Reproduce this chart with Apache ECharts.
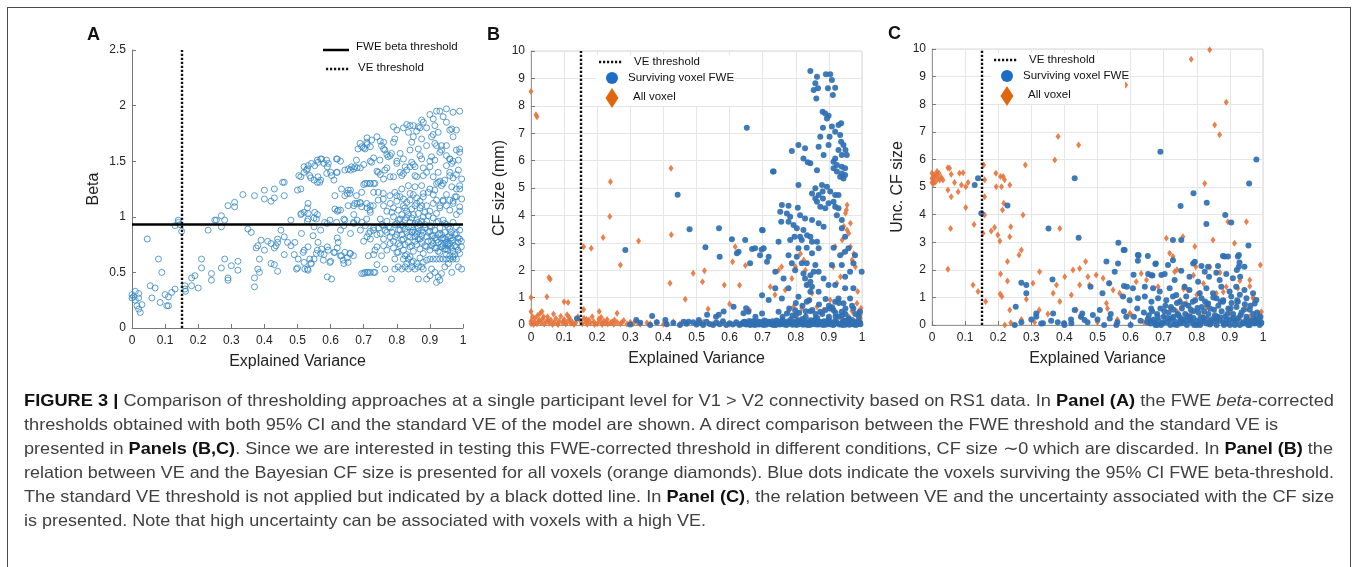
<!DOCTYPE html>
<html>
<head>
<meta charset="utf-8">
<title>Figure 3</title>
<script src="https://cdn.jsdelivr.net/npm/echarts@6/dist/echarts.min.js"></script>
<style>
html, body { margin: 0; padding: 0; background: #fff; }
#wrap { position: relative; width: 1358px; height: 567px; overflow: hidden; }
#chart { position: absolute; left: 0; top: 0; width: 1358px; height: 567px; }
#frame { position: absolute; left: 7px; top: 7px; width: 1342px; height: 620px; border: 1.5px solid #4a4a4a; pointer-events: none; }
#caption { position: absolute; left: 24px; top: 388px; font-family: 'Liberation Sans', Arial, sans-serif; color: #404040; font-size: 16.5px; line-height: 24px; }
#caption .ln { white-space: nowrap; height: 24px; }
#caption .ln span { display: inline-block; transform-origin: 0 50%; }
#caption b { color: #111; }
</style>
</head>
<body>
<div id="wrap">
  <div id="chart"></div>
  <div id="frame"></div>
  <div id="caption">
    <div class="ln"><span data-w="1310"><b>FIGURE 3 |</b> Comparison of thresholding approaches at a single participant level for V1 &gt; V2 connectivity based on RS1 data. In <b>Panel (A)</b> the FWE <i>beta</i>-corrected</span></div>
    <div class="ln"><span data-w="1254">thresholds obtained with both 95% CI and the standard VE of the model are shown. A direct comparison between the FWE threshold and the standard VE is</span></div>
    <div class="ln"><span data-w="1309">presented in <b>Panels (B,C)</b>. Since we are interested in testing this FWE-corrected threshold in different conditions, CF size ∼0 which are discarded. In <b>Panel (B)</b> the</span></div>
    <div class="ln"><span data-w="1310">relation between VE and the Bayesian CF size is presented for all voxels (orange diamonds). Blue dots indicate the voxels surviving the 95% CI FWE beta-threshold.</span></div>
    <div class="ln"><span data-w="1310">The standard VE threshold is not applied but indicated by a black dotted line. In <b>Panel (C)</b>, the relation between VE and the uncertainty associated with the CF size</span></div>
    <div class="ln"><span data-w="682">is presented. Note that high uncertainty can be associated with voxels with a high VE.</span></div>
  </div>
</div>
<script>
// thresholds
const VE_THRESHOLD = 0.15;
const FWE_BETA = 0.925;

// panel A: explained variance vs beta
const betaPoints = [
  [0,0.30],[0,0.27],[0.01,0.33],[0.01,0.25],[0.02,0.31],[0.015,0.20],[0.02,0.17],[0.025,0.14],[0.03,0.21],[0.02,0.27],[0.005,0.28],
  [0.046,0.80],[0.055,0.38],[0.07,0.36],[0.06,0.27],[0.08,0.62],[0.09,0.50],[0.085,0.23],
  [0.10,0.30],[0.105,0.20],[0.11,0.20],[0.11,0.28],[0.12,0.32],[0.13,0.35],
  [0.13,0.92],[0.14,0.95],[0.14,0.97],[0.15,0.87],[0.145,0.93],
  [0.16,0.35],[0.162,0.33],[0.16,0.38],[0.18,0.45],[0.19,0.47],[0.18,0.38],[0.20,0.36],[0.21,0.62],[0.21,0.54],
  [0.23,0.88],[0.24,0.49],[0.24,0.43],[0.25,0.97],[0.255,0.97],[0.27,1.01],[0.28,0.97],[0.27,0.91],[0.29,1.10],
  [0.27,0.54],[0.28,0.62],[0.29,0.45],[0.29,0.43],[0.30,0.56],[0.32,0.60],[0.32,0.52],
  [0.31,1.13],[0.31,1.09],[0.335,1.20],[0.35,0.89],[0.36,0.86],[0.37,1.19],
  [0.37,0.45],[0.37,0.37],[0.38,0.53],[0.385,0.50],[0.385,0.62],[0.38,0.74],[0.375,0.72],
  [0.40,1.24],[0.40,1.16],[0.42,1.14],[0.43,1.25],[0.43,1.17],[0.46,1.31],[0.455,1.31],[0.46,1.19],
  [0.39,0.79],[0.40,0.70],[0.41,0.78],[0.42,0.76],[0.43,0.72],[0.435,0.74],[0.44,0.77],[0.44,0.80],[0.45,0.88],[0.46,0.82],[0.47,0.77],
  [0.42,0.58],[0.43,0.57],[0.44,0.51],[0.46,0.66],[0.48,0.97],[0.48,0.74],[0.49,0.66],
  [0.50,0.54],[0.50,1.24],[0.51,1.36],[0.52,1.40],[0.52,1.45],[0.53,1.43],[0.54,1.35],[0.55,1.33],[0.56,1.51],[0.57,1.52],[0.58,1.48],[0.59,1.45],[0.56,1.31],[0.57,1.33],
  [0.51,1.02],[0.52,1.04],[0.53,1.08],[0.53,0.96],[0.55,0.91],[0.55,0.99],[0.56,1.02],[0.57,0.88],[0.59,0.94],
  [0.52,0.70],[0.52,0.59],[0.53,0.53],[0.54,0.58],[0.55,0.62],[0.56,0.70],[0.57,0.67],[0.58,0.66],[0.59,0.73],[0.59,0.46],
  [0.60,1.40],[0.61,1.33],[0.62,1.40],[0.62,1.52],[0.63,1.50],[0.63,1.06],[0.62,1.05],[0.64,0.98],[0.63,0.88],[0.64,0.92],
  [0.62,0.81],[0.61,0.68],[0.60,0.60],[0.62,0.72],[0.63,0.65],[0.64,0.58],[0.65,0.63],[0.66,0.67],
  [0.65,1.21],[0.66,1.24],[0.66,1.42],[0.67,1.43],[0.68,1.44],[0.69,1.44],[0.67,1.10],[0.68,1.12],[0.69,1.12],[0.67,1.02],[0.68,0.97],[0.69,0.88],[0.66,0.85],[0.67,0.94],
  [0.70,1.62],[0.71,1.65],[0.72,1.63],[0.71,1.71],[0.70,1.47],[0.72,1.50],[0.73,1.53],[0.70,1.29],[0.71,1.30],[0.72,1.30],[0.73,1.30],[0.73,1.22],
  [0.71,1.08],[0.72,1.04],[0.72,1.10],[0.70,0.78],[0.71,0.82],[0.72,0.87],[0.73,0.90],[0.70,0.49],[0.71,0.50],[0.72,0.50],[0.73,0.50],[0.73,0.66],[0.74,0.73],[0.74,0.57],
  [0.74,1.72],[0.75,1.68],[0.76,1.61],[0.77,1.56],[0.78,1.55],[0.74,1.41],[0.75,1.38],[0.76,1.34],[0.77,1.44],[0.78,1.36],
  [0.79,1.81],[0.80,1.78],[0.82,1.80],[0.83,1.83],[0.84,1.82],[0.85,1.72],[0.86,1.77],[0.87,1.80],[0.88,1.85],[0.89,1.80],
  [0.80,1.50],[0.81,1.40],[0.82,1.39],[0.83,1.42],[0.84,1.45],[0.85,1.47],[0.86,1.36],[0.87,1.55],[0.88,1.44],[0.89,1.40],
  [0.90,1.92],[0.91,1.88],[0.92,1.95],[0.93,1.95],[0.94,1.90],[0.95,1.85],[0.96,1.78],[0.97,1.72],[0.99,1.95],[0.98,1.60],
  [0.91,1.74],[0.92,1.64],[0.93,1.58],[0.95,1.64],[0.96,1.52],[0.97,1.50],[0.99,1.58],[0.98,1.38],
  [0.90,1.50],[0.91,1.36],[0.92,1.30],[0.93,1.32],[0.94,1.30],[0.95,1.46],[0.96,1.40],[0.97,1.35],[0.98,1.25],[0.99,1.28],
  [0.90,1.25],[0.91,1.20],[0.92,1.15],[0.93,1.10],[0.94,1.14],[0.95,1.20],[0.96,1.15],[0.97,1.12],[0.98,1.18],[0.99,1.05],
  [0.95,1.97],[0.97,1.94],[0.875,1.87],[0.85,1.82],[0.835,1.76],[0.865,1.81],[0.915,1.82],[0.925,1.76],[0.966,1.79],[0.98,1.78],
  [0.905,1.72],[0.875,1.70],[0.845,1.67],[0.794,1.70],[0.79,1.67],[0.76,1.67],[0.724,1.69],[0.709,1.67],[0.689,1.66],[0.683,1.61],[0.694,1.63],[0.704,1.61],
  [0.754,1.64],[0.764,1.60],[0.784,1.57],[0.774,1.54],[0.81,1.57],[0.84,1.60],[0.865,1.61],[0.89,1.64],[0.915,1.66],[0.935,1.64],[0.99,1.61],
  [0.95,1.55],[0.935,1.60],[0.905,1.54],[0.915,1.51],[0.96,1.52],[0.986,1.51],[0.966,1.48],[0.875,1.52],[0.845,1.49],[0.82,1.52],[0.80,1.48],
  [0.749,1.51],[0.724,1.49],[0.678,1.51],[0.663,1.45],[0.653,1.43],[0.673,1.45],[0.643,1.42],[0.618,1.52],[0.593,1.48],[0.588,1.51],[0.573,1.52],
  [0.562,1.49],[0.552,1.46],[0.542,1.48],[0.532,1.46],[0.527,1.42],[0.537,1.37],[0.562,1.36],[0.567,1.31],[0.588,1.39],[0.603,1.37],[0.618,1.40],
  [0.504,1.37],[0.51,1.25],[0.744,1.40],[0.764,1.42],[0.79,1.36],[0.815,1.37],[0.825,1.45],[0.855,1.45],[0.855,1.37],[0.88,1.37],[0.90,1.45],
  [0.925,1.40],[0.925,1.31],[0.945,1.33],[0.96,1.37],[0.986,1.42],[0.996,1.34],[0.935,1.28],[0.966,1.27],[0.99,1.25],[0.996,1.16],[0.976,1.18],
  [0.915,1.24],[0.895,1.22],[0.875,1.28],[0.855,1.27],[0.835,1.28],[0.815,1.25],[0.794,1.22],[0.779,1.19],[0.759,1.21],[0.744,1.22],
  [0.734,1.30],[0.719,1.30],[0.704,1.30],[0.694,1.22],[0.678,1.19],[0.658,1.21],[0.643,1.19],[0.633,1.25],[0.653,1.24],[0.613,1.19],
  [0.613,1.07],[0.623,1.06],[0.653,1.10],[0.673,1.12],[0.689,1.13],[0.694,1.09],[0.709,1.12],[0.719,1.06],[0.729,1.10],[0.744,1.15],[0.759,1.16],
  [0.532,1.12],[0.532,1.03],[0.512,1.03],[0.552,1.04],[0.557,0.98],[0.532,0.98],[0.582,0.95],[0.598,0.97],[0.618,0.95],[0.643,0.97],[0.669,0.95],[0.694,0.95],[0.709,0.98],
  [0.492,0.77],[0.512,0.85],[0.517,0.68],[0.532,0.73],[0.547,0.83],[0.562,0.77],[0.557,0.67],[0.573,0.71],[0.578,0.61],[0.593,0.70],[0.598,0.59],
  [0.613,0.68],[0.623,0.77],[0.633,0.65],[0.643,0.68],[0.653,0.59],[0.658,0.67],[0.669,0.65],[0.638,0.61],[0.522,0.53],[0.502,0.62],[0.497,0.53],
  [0.537,0.62],[0.542,0.58],[0.532,0.52],[0.603,0.44],[0.694,0.49],[0.704,0.50],[0.714,0.50],[0.734,0.50],[0.714,0.65],[0.734,0.70],[0.754,0.65],
  [0.764,0.53],[0.784,0.44],[0.794,0.53],[0.804,0.55],[0.815,0.53],[0.825,0.55],[0.835,0.53],[0.845,0.55],[0.855,0.53],[0.865,0.55],[0.875,0.55],[0.88,0.53],
  [0.835,0.62],[0.845,0.59],[0.825,0.65],[0.794,0.62],[0.804,0.68],[0.865,0.44],[0.89,0.61],[0.90,0.62],[0.91,0.62],[0.92,0.62],[0.93,0.62],
  [0.94,0.62],[0.95,0.62],[0.96,0.62],[0.97,0.62],[0.98,0.62],[0.905,0.53],[0.915,0.50],[0.925,0.46],[0.935,0.49],[0.92,0.41],[0.945,0.55],
  [0.966,0.50],[0.986,0.55],[0.996,0.53],[0.956,0.58],[0.89,0.44],[0.90,0.47],[0.93,0.43],
  [0.76,1.10],[0.77,1.05],[0.78,1.12],[0.79,1.08],[0.80,1.14],[0.81,1.18],[0.82,1.10],[0.83,1.05],[0.84,1.15],[0.85,1.20],[0.86,1.12],[0.87,1.08],
  [0.88,1.18],[0.89,1.10],[0.90,1.05],[0.91,1.12],[0.92,1.03],[0.93,1.08],[0.94,1.15],[0.95,1.10],[0.96,1.06],[0.97,1.14],[0.98,1.02],[0.99,1.09],
  [0.75,0.98],[0.76,0.92],[0.77,0.96],[0.78,0.90],[0.79,1.00],[0.80,0.94],[0.81,0.98],[0.82,0.92],[0.83,0.99],[0.84,0.95],[0.85,1.02],[0.86,0.97],
  [0.87,0.93],[0.88,1.00],[0.89,0.96],[0.90,0.92],[0.91,0.99],[0.92,0.95],[0.93,0.90],[0.94,0.97],[0.95,0.93],[0.96,0.89],[0.97,0.95],[0.98,0.91],[0.99,0.88],
  [0.75,0.85],[0.76,0.80],[0.77,0.86],[0.78,0.82],[0.79,0.78],[0.80,0.84],[0.81,0.88],[0.82,0.80],[0.83,0.86],[0.84,0.82],[0.85,0.88],[0.86,0.84],
  [0.87,0.80],[0.88,0.86],[0.89,0.82],[0.90,0.87],[0.91,0.83],[0.92,0.79],[0.93,0.85],[0.94,0.81],[0.95,0.77],[0.96,0.83],[0.97,0.79],[0.98,0.85],[0.99,0.80],
  [0.76,0.74],[0.77,0.70],[0.78,0.76],[0.79,0.72],[0.80,0.68],[0.81,0.74],[0.82,0.70],[0.83,0.66],[0.84,0.73],[0.85,0.69],[0.86,0.75],[0.87,0.71],
  [0.88,0.67],[0.89,0.73],[0.90,0.70],[0.91,0.76],[0.92,0.72],[0.93,0.68],[0.94,0.74],[0.95,0.71],[0.96,0.76],[0.97,0.69],[0.98,0.73],[0.99,0.67],
  [0.835,1.02],[0.845,1.07],[0.855,0.94],[0.865,1.03],[0.875,0.96],[0.845,0.91],[0.855,0.86],[0.865,0.90],[0.875,1.10],[0.885,1.04],[0.825,1.08],
  [0.815,1.02],[0.805,0.97],[0.795,0.93],[0.785,1.04],[0.83,1.13],[0.86,1.17],[0.87,1.14],[0.88,1.21],[0.84,1.21],[0.82,1.16],[0.80,1.19],
  [0.935,0.80],[0.945,0.86],[0.955,0.82],[0.965,0.78],[0.945,0.76],[0.935,0.73],[0.955,0.70],[0.925,0.84],[0.915,0.88],[0.905,0.91],[0.965,0.86],
  [0.975,0.74],[0.985,0.77],[0.955,0.91],[0.945,0.94],[0.925,0.96],[0.905,0.83],[0.895,0.78],[0.885,0.74],[0.875,0.77],[0.865,0.80],[0.855,0.78],
  [0.845,0.74],[0.835,0.77],[0.825,0.75],[0.815,0.79],[0.805,0.76],[0.795,0.82],[0.785,0.86],[0.775,0.91],[0.765,0.88],[0.755,0.93],[0.745,0.90],
  [0.74,0.84],[0.73,0.88],[0.72,0.80],[0.715,0.85],[0.705,0.92],
  [0.805,1.06],[0.815,0.93],[0.825,0.97],[0.835,0.91],[0.845,0.99],[0.855,1.10],[0.865,0.95],[0.875,0.88],[0.885,0.93],[0.895,1.01],
  [0.805,0.88],[0.815,0.84],[0.825,0.89],[0.835,0.83],[0.845,0.86],[0.855,0.82],[0.865,0.87],[0.875,0.83],[0.885,0.90],[0.895,0.86],
  [0.905,0.78],[0.915,0.81],[0.925,0.77],[0.935,0.84],[0.945,0.80],[0.955,0.76],[0.965,0.81],[0.975,0.84],[0.985,0.81],[0.995,0.78],
  [0.915,0.72],[0.925,0.69],[0.935,0.76],[0.945,0.71],[0.955,0.74],[0.965,0.72],[0.975,0.66],[0.985,0.70],[0.995,0.73],[0.905,0.74],
  [0.82,0.62],[0.83,0.58],[0.84,0.64],[0.85,0.60],[0.86,0.58],[0.87,0.63],[0.88,0.59],[0.95,0.66],[0.96,0.65],[0.97,0.64]
];

// panel B: explained variance vs CF size, all voxels
const cfSizeAll = [
  [0,8.52],[0.015,7.67],[0.018,7.6],[0,1.0],[0.048,1.03],[0.054,1.73],[0.058,1.67],[0.10,0.85],[0.112,0.82],[0,0.49],[0.028,0.43],[0.033,0.49],[0.109,0.37],
  [0.159,2.86],[0.182,2.8],[0.159,0.57],[0.218,3.19],[0.238,3.96],[0.24,5.23],[0.206,0.49],[0.26,0.43],[0.27,2.19],[0.325,3.07],
  [0.423,5.72],[0.424,3.29],[0.42,1.52],[0.466,0.94],[0.49,1.89],[0.518,1.58],[0.524,1.98],[0.535,0.58],[0.584,1.46],[0.60,0.77],
  [0.609,2.31],[0.617,2.86],[0.63,1.45],[0.648,2.17],[0.66,0.55],
  [0.723,1.4],[0.737,1.1],[0.748,2.0],[0.757,2.13],[0.768,1.28],[0.788,1.7],[0.799,2.13],[0.814,2.6],[0.824,2.37],[0.834,1.46],[0.843,0.91],
  [0.829,2.0],[0.849,1.16],[0.864,0.67],[0.884,0.55],[0.904,0.91],[0.919,2.86],[0.924,1.52],[0.935,1.76],[0.94,3.1],[0.945,3.6],[0.95,4.08],
  [0.955,4.38],[0.953,4.2],[0.96,3.35],[0.965,2.86],[0.97,2.37],[0.975,2.6],[0.98,2.13],[0.985,0.79],[0.987,1.22],[0.99,0.49],[0.995,0.37],
  [0.997,0.61],[0.955,3.47],[0.965,3.71],[0.942,2.62],[0.93,0.91],[0.913,2.13],[0.793,0.67],[0.778,0.49],[0.818,0.61],
  [0,0.05],[0,0.15],[0.005,0.3],[0.01,0.1],[0.012,0.25],[0.018,0.05],[0.02,0.35],[0.025,0.18],[0.03,0.08],[0.035,0.22],[0.04,0.04],[0.045,0.12],
  [0.05,0.3],[0.055,0.06],[0.06,0.18],[0.065,0.02],[0.07,0.1],[0.075,0.24],[0.08,0.05],[0.085,0.15],[0.09,0.32],[0.095,0.08],[0.10,0.2],
  [0.105,0.04],[0.11,0.12],[0.115,0.28],[0.12,0.06],[0.125,0.1],[0.13,0.02],[0.15,0.15],[0.155,0.05],[0.16,0.25],[0.165,0.1],[0.17,0.03],
  [0.175,0.18],[0.18,0.08],[0.185,0.3],[0.19,0.12],[0.2,0.05],[0.205,0.22],[0.21,0.1],[0.215,0.02],[0.22,0.15],[0.225,0.06],[0.23,0.2],
  [0.24,0.08],[0.245,0.12],[0.25,0.03],[0.26,0.1],[0.27,0.05],[0.28,0.16],[0.29,0.04],[0.3,0.1],[0.31,0.06],[0.32,0.12],[0.33,0.03],
  [0.35,0.08],[0.36,0.05],[0.38,0.1],[0.40,0.03],[0.41,0.06],[0.43,0.12],[0.45,0.04],[0.47,0.07],[0.5,0.03],[0.52,0.1],[0.55,0.05],
  [0.58,0.08],[0.6,0.03],[0.62,0.06],[0.65,0.1],[0.68,0.04],[0.7,0.08],[0.72,0.12],[0.74,0.05],[0.76,0.15],[0.78,0.08],[0.8,0.2],
  [0.82,0.06],[0.84,0.12],[0.86,0.25],[0.88,0.1],[0.9,0.15],[0.92,0.05],[0.94,0.2],[0.96,0.3],[0.97,0.5],[0.98,0.12],[0.99,0.4],[0.995,0.25],
  [0.008,0.02],[0.022,0.12],[0.038,0.3],[0.052,0.18],[0.068,0.4],[0.082,0.02],[0.098,0.14],[0.118,0.2],[0.135,0.08],[0.142,0.3],
  [0.168,0.2],[0.192,0.02],[0.212,0.28],[0.232,0.04],[0.252,0.18],[0.275,0.1]
];

// panel B: explained variance vs CF size, voxels surviving FWE
const cfSizeFWE = [
  [0.844,9.27],[0.864,9.06],[0.891,9.15],[0.904,9.15],[0.909,8.94],[0.859,8.82],[0.867,8.64],[0.897,8.64],[0.919,8.66],[0.854,8.58],[0.862,8.27],
  [0.912,8.39],[0.881,7.78],[0.889,7.72],[0.899,7.64],[0.894,7.54],[0.929,7.3],[0.937,7.36],[0.909,7.24],[0.652,7.2],[0.882,7.2],[0.919,7.05],
  [0.874,6.87],[0.902,6.87],[0.934,6.93],[0.937,6.69],[0.944,6.57],[0.95,6.39],[0.929,6.39],[0.808,6.57],[0.828,6.45],[0.869,6.51],[0.899,6.57],
  [0.788,6.35],[0.884,6.2],[0.919,6.08],[0.939,6.2],[0.954,6.2],[0.823,6.08],[0.836,5.94],[0.844,5.9],[0.914,5.96],[0.924,5.84],[0.939,5.78],
  [0.949,5.72],[0.733,5.6],[0.864,5.65],[0.914,5.72],[0.924,5.6],[0.939,5.53],[0.934,5.41],[0.944,5.35],[0.949,5.47],[0.808,5.11],[0.859,4.99],
  [0.879,5.11],[0.894,5.05],[0.849,4.8],[0.869,4.74],[0.881,4.87],[0.904,4.87],[0.919,4.74],[0.859,4.62],[0.882,4.62],[0.864,4.5],[0.899,4.44],
  [0.914,4.5],[0.919,4.32],[0.929,4.26],[0.874,4.32],[0.889,4.26],[0.929,4.74],[0.758,4.38],[0.778,4.35],[0.806,4.28],[0.753,4.13],[0.773,4.07],
  [0.783,3.95],[0.813,4.01],[0.828,3.89],[0.849,3.83],[0.924,4.01],[0.939,3.83],[0.756,3.77],[0.778,3.77],[0.793,3.65],[0.803,3.53],[0.823,3.47],
  [0.869,3.71],[0.834,3.28],[0.844,3.22],[0.813,3.22],[0.796,3.22],[0.884,3.59],[0.939,3.53],[0.949,3.22],[0.698,3.47],[0.647,3.1],[0.748,3.04],
  [0.783,3.1],[0.818,3.1],[0.849,3.04],[0.864,3.04],[0.677,2.8],[0.703,2.8],[0.808,2.8],[0.833,2.82],[0.869,2.8],[0.914,2.82],[0.959,2.8],
  [0.627,2.67],[0.692,2.55],[0.718,2.49],[0.778,2.55],[0.803,2.49],[0.849,2.62],[0.934,2.55],[0.949,2.67],[0.979,2.55],[0.662,2.25],[0.713,2.31],
  [0.788,2.25],[0.818,2.25],[0.833,2.25],[0.859,2.19],[0.909,2.19],[0.939,2.19],[0.974,2.25],[0.738,1.94],[0.798,2.0],[0.823,1.88],[0.844,1.82],
  [0.854,1.94],[0.869,1.94],[0.964,1.94],[0.999,1.94],[0.763,1.7],[0.828,1.7],[0.844,1.58],[0.884,1.7],[0.949,1.76],[0.833,1.46],[0.849,1.4],
  [0.899,1.46],[0.919,1.46],[0.738,1.34],[0.778,1.34],[0.844,1.21],[0.869,1.21],[0.949,1.34],[0.974,1.34],[0.698,1.09],[0.718,0.91],[0.758,0.97],
  [0.808,1.03],[0.833,0.85],[0.919,0.85],[0.929,0.97],[0.944,0.79],[0.964,0.97],[0.657,0.48],[0.698,0.42],[0.748,0.48],[0.773,0.42],[0.798,0.54],
  [0.844,0.5],[0.874,0.48],[0.904,0.6],[0.914,0.54],[0.939,0.48],[0.974,0.6],[0.994,0.48],
  [0.139,0.24],[0.285,2.74],[0.443,4.75],[0.479,3.49],[0.527,2.84],[0.568,3.53],[0.570,2.49],[0.607,3.13],[0.622,2.62],[0.668,2.77],[0.697,2.76],
  [0.70,3.46],[0.731,5.6],[0.366,0.33],[0.318,0.18],[0.406,0.18],[0.461,0.12],[0.476,0.12],[0.507,0.18],[0.532,0.37],[0.559,0.30],[0.567,0.37],
  [0.582,0.49],[0.612,0.67],[0.642,0.43],[0.65,0.61],[0.678,0.30],
  [0.76,0.3],[0.78,0.6],[0.79,0.35],[0.8,0.8],[0.81,0.45],[0.82,0.7],[0.83,0.3],[0.84,0.9],[0.85,0.55],[0.86,0.25],[0.87,0.75],[0.88,0.4],
  [0.89,0.95],[0.9,0.3],[0.91,0.65],[0.92,0.45],[0.93,0.8],[0.94,0.35],[0.95,0.6],[0.96,0.25],[0.97,0.7],[0.98,0.4],[0.99,0.3],[0.8,0.35],
  [0.83,0.5],[0.86,0.4],[0.89,0.55],[0.92,0.3],[0.95,0.4],[0.9,0.7],
  [0.3,0.02],[0.33,0.08],[0.36,0.0],[0.38,0.1],[0.41,0.03],[0.43,0.07],[0.45,0.0],[0.47,0.05],[0.49,0.1],[0.5,0.02],[0.51,0.08],[0.52,0.0],
  [0.53,0.12],[0.54,0.04],[0.55,0.0],[0.56,0.09],[0.57,0.03],[0.58,0.14],[0.59,0.0],[0.6,0.06],[0.61,0.02],[0.62,0.1],[0.63,0.0],[0.635,0.05],
  [0.64,0.05],[0.645,0.12],[0.65,0.02],[0.655,0.08],[0.66,0.15],[0.665,0.03],[0.67,0.1],[0.675,0.0],[0.68,0.06],[0.685,0.13],[0.69,0.02],
  [0.695,0.09],[0.7,0.04],[0.705,0.16],[0.71,0.01],[0.715,0.07],[0.72,0.11],[0.725,0.03],[0.73,0.14],[0.735,0.05],[0.74,0.0],[0.745,0.09],
  [0.75,0.12],[0.755,0.04],[0.76,0.18],[0.765,0.02],[0.77,0.08],[0.775,0.13],[0.78,0.05],[0.785,0.2],[0.79,0.01],[0.795,0.1],[0.8,0.06],
  [0.805,0.15],[0.81,0.03],[0.815,0.09],[0.82,0.22],[0.825,0.04],[0.83,0.12],[0.835,0.0],[0.84,0.07],[0.845,0.17],[0.85,0.03],[0.855,0.1],
  [0.86,0.05],[0.865,0.25],[0.87,0.02],[0.875,0.11],[0.88,0.06],[0.885,0.14],[0.89,0.01],[0.895,0.08],[0.9,0.19],[0.905,0.04],[0.91,0.1],
  [0.915,0.02],[0.92,0.13],[0.925,0.06],[0.93,0.3],[0.935,0.03],[0.94,0.09],[0.945,0.15],[0.95,0.01],[0.955,0.07],[0.96,0.12],[0.965,0.04],
  [0.97,0.18],[0.975,0.02],[0.98,0.1],[0.985,0.05],[0.99,0.14],[0.995,0.03],
  [0.642,0.1],[0.652,0.04],[0.662,0.0],[0.672,0.14],[0.682,0.02],[0.692,0.11],[0.702,0.0],[0.712,0.13],[0.722,0.05],[0.732,0.0],[0.742,0.16],
  [0.752,0.02],[0.762,0.1],[0.772,0.0],[0.782,0.12],[0.792,0.04],[0.802,0.0],[0.812,0.17],[0.822,0.01],[0.832,0.08],[0.842,0.0],[0.852,0.15],
  [0.862,0.02],[0.872,0.09],[0.882,0.0],[0.892,0.13],[0.902,0.03],[0.912,0.0],[0.922,0.1],[0.932,0.02],[0.942,0.0],[0.952,0.16],[0.962,0.01],
  [0.972,0.08],[0.982,0.0],[0.992,0.11]
];

// panel C: explained variance vs uncertainty of CF size, all voxels
const uncAll = [
  [0,5.5],[0.003,5.25],[0.008,5.38],[0.013,5.44],[0.018,5.32],[0.023,5.25],[0.028,5.35],[0.005,5.13],[0.011,5.19],[0.015,5.56],[0.021,5.5],
  [0.033,5.25],[0,5.32],[0.006,5.44],[0,5.16],
  [0.048,5.7],[0.053,5.68],[0.058,5.46],[0.068,5.16],[0.048,4.89],[0.058,4.65],[0.079,4.83],[0.089,5.07],[0.094,5.52],[0.102,5.01],[0.102,4.26],
  [0.109,5.16],[0.083,5.5],[0.056,3.5],[0.048,2.02],[0.124,1.45],[0.127,3.64],[0.139,1.21],[0.156,5.8],[0.159,5.26],[0.159,4.65],[0.159,3.99],
  [0.154,3.32],[0.162,0.85],[0.189,3.53],[0.179,3.41],[0.193,5.5],[0.194,5.01],[0.199,3.26],[0.205,3.04],[0.207,5.38],[0.21,5.01],[0.213,4.17],
  [0.217,4.41],[0.215,5.38],[0.207,1.85],[0.206,1.12],[0.211,1.03],[0.219,5.26],[0.235,5.07],[0.228,2.3],[0.238,3.56],[0.235,3.2],[0.228,1.59],
  [0.235,0.54],[0.238,0.08],[0.263,2.54],[0.27,2.72],[0.275,3.99],[0.282,5.8],[0.285,0.93],[0.305,1.51],[0.325,1.93],[0.324,0.54],[0.371,5.98],
  [0.381,6.83],[0.386,3.5],[0.386,0.85],[0.376,1.45],[0.366,1.15],[0.401,1.75],[0.421,1.09],[0.426,1.99],[0.443,6.52],[0.446,2.05],[0.446,1.45],
  [0.436,0.54],[0.464,2.3],[0.471,1.75],[0.476,1.45],[0.496,1.81],[0.517,1.69],[0.527,0.79],[0.537,1.51],[0.547,1.27],[0.567,1.15],[0.585,8.7],
  [0.597,0.42],[0.617,1.57],[0.632,1.87],[0.648,1.63],[0.683,1.39],[0.708,3.14],[0.718,2.6],[0.728,2.48],[0.733,1.93],[0.758,3.2],[0.773,1.27],
  [0.783,9.63],[0.794,2.84],[0.797,2.11],[0.824,5.13],[0.839,9.97],[0.849,3.08],[0.854,7.25],[0.869,6.89],[0.889,8.07],[0.894,3.74],[0.914,2.96],
  [0.924,1.33],[0.95,3.74],[0.96,1.63],[0.97,0.97],[0.992,2.17],[0.995,0.48],[0.889,1.39],[0.859,1.15],[0.829,0.66],[0.809,1.15],[0.753,0.66],
  [0.763,1.39],[0.768,0.79],
  [0.22,0.0],[0.27,0.2],[0.31,0.1],[0.35,0.4],[0.40,0.05],[0.45,0.3],[0.5,0.1],[0.53,0.6],[0.56,0.2],[0.6,0.4],[0.64,0.1],[0.7,0.3],[0.74,0.5],
  [0.78,0.2],[0.82,0.35],[0.86,0.15],[0.9,0.45],[0.93,0.2],[0.96,0.3],[0.98,0.1],
  [0.72,0.6],[0.75,0.9],[0.78,0.4],[0.8,1.1],[0.83,0.7],[0.85,0.3],[0.88,1.2],[0.9,0.5],[0.92,0.8],[0.95,0.6],[0.97,1.0],[0.99,0.4],[0.76,1.3],
  [0.82,1.5],[0.87,1.9],[0.93,1.6],[0.96,1.4],[0.74,2.0],[0.79,1.8],[0.84,2.1]
];

// panel C: explained variance vs uncertainty of CF size, voxels surviving FWE
const uncFWE = [
  [0.129,5.07],[0.139,5.32],[0.149,4.05],[0.228,4.33],[0.253,0.66],[0.25,0],[0.27,1.53],[0.285,1.45],[0.285,1.15],[0.315,0.42],[0.315,0.3],
  [0.335,0.06],[0.352,3.5],[0.364,1.65],[0.366,0.42],[0.399,0.06],[0.421,0.06],[0.431,5.32],[0.431,0.54],[0.443,3.16],[0.454,0.42],[0.461,0.18],
  [0.479,1.39],[0.486,0.36],[0.507,0.54],[0.515,1.15],[0.527,2.3],[0.535,1.51],[0.537,0.24],[0.552,1.93],[0.557,0],[0.562,2.23],[0.563,2.98],
  [0.579,2.72],[0.58,1.41],[0.587,0.3],[0.622,2.54],[0.622,2.33],[0.652,2.5],[0.663,1.8],[0.676,2.23],[0.69,6.28],[0.693,1.81],[0.713,2.17],
  [0.728,3.08],[0.733,1.63],[0.751,4.31],[0.753,3.08],[0.79,4.77],[0.789,2.23],[0.83,4.43],[0.829,3.66],[0.834,2.11],[0.886,3.99],[0.904,3.71],
  [0.884,2.48],[0.894,2.48],[0.927,2.54],[0.927,2.11],[0.944,2.11],[0.958,5.13],[0.956,2.88],[0.98,6.0],[0.98,0.91],
  [0.582,2.72],[0.624,2.53],[0.675,2.21],[0.728,2.35],[0.794,2.29],[0.814,2.14],[0.864,2.14],[0.879,2.5],[0.924,2.48],[0.929,2.26],
  [0.609,1.82],[0.653,1.85],[0.666,1.79],[0.703,1.85],[0.753,1.97],[0.778,1.75],[0.804,1.57],[0.824,1.93],[0.837,1.75],[0.859,1.89],[0.869,1.63],
  [0.889,1.85],[0.909,1.69],[0.921,1.99],[0.931,1.75],[0.589,1.39],[0.607,1.33],[0.643,1.39],[0.668,1.33],[0.688,1.21],[0.718,1.33],[0.738,1.09],
  [0.763,1.39],[0.778,1.27],[0.809,1.15],[0.829,1.33],[0.849,1.15],[0.874,1.39],[0.899,1.21],[0.919,1.39],[0.944,1.27],[0.97,1.15],
  [0.577,1.03],[0.597,0.9],[0.622,0.97],[0.643,1.03],[0.663,0.84],[0.683,0.97],[0.708,0.9],[0.728,1.03],[0.748,0.84],[0.768,1.03],[0.788,0.84],
  [0.814,0.97],[0.834,0.78],[0.859,0.97],[0.879,0.84],[0.904,1.03],[0.924,0.84],[0.95,0.97],[0.975,0.78],
  [0.65,0.1],[0.655,0.35],[0.66,0.05],[0.665,0.5],[0.67,0.2],[0.675,0.0],[0.68,0.4],[0.685,0.15],[0.69,0.6],[0.695,0.05],[0.7,0.3],[0.705,0.7],
  [0.71,0.1],[0.715,0.45],[0.72,0.0],[0.725,0.25],[0.73,0.55],[0.735,0.12],[0.74,0.8],[0.745,0.35],[0.75,0.05],[0.755,0.6],[0.76,0.2],[0.765,0.4],
  [0.77,0.0],[0.775,0.7],[0.78,0.3],[0.785,0.1],[0.79,0.5],[0.795,0.9],[0.8,0.15],[0.805,0.45],[0.81,0.0],[0.815,0.65],[0.82,0.25],[0.825,0.85],
  [0.83,0.05],[0.835,0.4],[0.84,0.6],[0.845,0.2],[0.85,1.0],[0.855,0.35],[0.86,0.0],[0.865,0.7],[0.87,0.15],[0.875,0.5],[0.88,0.9],[0.885,0.3],
  [0.89,0.05],[0.895,0.6],[0.9,0.2],[0.905,0.8],[0.91,0.4],[0.915,0.0],[0.92,0.65],[0.925,0.25],[0.93,1.1],[0.935,0.45],[0.94,0.1],[0.945,0.75],
  [0.95,0.3],[0.955,0.0],[0.96,0.55],[0.965,0.15],[0.97,0.4],[0.975,0.05],[0.98,0.25],[0.985,0.1],[0.99,0.0],[0.995,0.08],
  [0.652,0.22],[0.662,0.6],[0.672,0.08],[0.682,0.3],[0.692,0.0],[0.702,0.5],[0.712,0.25],[0.722,0.65],[0.732,0.02],[0.742,0.4],[0.752,0.18],
  [0.762,0.75],[0.772,0.32],[0.782,0.55],[0.792,0.0],[0.802,0.62],[0.812,0.28],[0.822,0.5],[0.832,0.75],[0.842,0.1],[0.852,0.55],[0.862,0.3],
  [0.872,0.85],[0.882,0.0],[0.892,0.4],[0.902,0.6],[0.912,0.15],[0.922,0.9],[0.932,0.35],[0.942,0.55],[0.952,0.12],[0.962,0.7],[0.972,0.22],
  [0.982,0.45],[0.992,0.3],
  [0.66,0.15],[0.68,0.0],[0.7,0.1],[0.72,0.2],[0.74,0.0],[0.76,0.08],[0.78,0.18],[0.8,0.0],[0.82,0.12],[0.84,0.02],[0.86,0.2],[0.88,0.1],[0.9,0.0],
  [0.92,0.15],[0.94,0.05],[0.96,0.0],[0.98,0.15],[0.99,0.2],[0.73,0.3],[0.75,0.25],[0.77,0.15],[0.79,0.25],[0.81,0.1],[0.83,0.22],[0.85,0.12],
  [0.87,0.28],[0.89,0.18],[0.91,0.25],[0.93,0.0],[0.95,0.2],[0.97,0.1],
  [0.5,0.2],[0.52,0.0],[0.54,0.4],[0.56,0.1],[0.58,0.5],[0.6,0.0],[0.61,0.3],[0.62,0.6],[0.63,0.15],[0.64,0.45],[0.47,0.1],[0.45,0.3],[0.42,0.2],
  [0.4,0.0],[0.38,0.1],[0.36,0.15],[0.33,0.05],[0.3,0.2],[0.27,0.1]
];

const BLUE = '#2f6fb2';
const ORANGE = '#e5733a';
const FONT = "'Liberation Sans', Arial, sans-serif";

// panel rectangles in pixels: left, top, right edge, bottom edge
const panels = [
  { left: 132, top: 50, right: 1358 - 463, bottom: 567 - 328, yMax: 2.5, yStep: 0.5, name: 'Beta', gap: 30, boxed: false },
  { left: 531, top: 51, right: 1358 - 862, bottom: 567 - 325, yMax: 10, yStep: 1, name: 'CF size (mm)', gap: 20, boxed: true },
  { left: 932, top: 49, right: 1358 - 1263, bottom: 567 - 325, yMax: 10, yStep: 1, name: 'Unc. CF size', gap: 26, boxed: true }
];

const grids = panels.map(p => ({
  left: p.left, top: p.top, right: p.right, bottom: p.bottom,
  show: p.boxed, borderColor: '#d6d6d6', borderWidth: 1, backgroundColor: 'transparent'
}));

const xAxes = panels.map((p, i) => ({
  type: 'value', gridIndex: i, min: 0, max: 1, interval: 0.1,
  name: 'Explained Variance', nameLocation: 'middle', nameGap: 26,
  nameTextStyle: { fontFamily: FONT, fontSize: 16, color: '#222' },
  axisLine: { show: true, onZero: false, lineStyle: { color: p.boxed ? '#9a9a9a' : '#777', width: 1 } },
  axisTick: { show: true, inside: true, length: 4, lineStyle: { color: '#777' } },
  axisLabel: { fontFamily: FONT, fontSize: 12, color: '#222', margin: 7 },
  splitLine: { show: p.boxed, lineStyle: { color: '#e6e6e6', width: 1 } }
}));

const yAxes = panels.map((p, i) => ({
  type: 'value', gridIndex: i, min: 0, max: p.yMax, interval: p.yStep,
  name: p.name, nameLocation: 'middle', nameGap: p.gap,
  nameTextStyle: { fontFamily: FONT, fontSize: 16, color: '#222' },
  axisLine: { show: true, onZero: false, lineStyle: { color: p.boxed ? '#9a9a9a' : '#777', width: 1 } },
  axisTick: { show: true, inside: true, length: 4, lineStyle: { color: '#777' } },
  axisLabel: { fontFamily: FONT, fontSize: 12, color: '#222', margin: 6 },
  splitLine: { show: p.boxed, lineStyle: { color: '#e6e6e6', width: 1 } }
}));

const dotted = { color: '#111', width: 2.4, type: [2.2, 1.8] };

function veLine() {
  return {
    silent: true, symbol: 'none', label: { show: false },
    lineStyle: dotted, data: [{ xAxis: VE_THRESHOLD }]
  };
}

const series = [
  {
    type: 'scatter', xAxisIndex: 0, yAxisIndex: 0, data: betaPoints,
    symbol: 'circle', symbolSize: 6,
    itemStyle: { color: 'rgba(0,0,0,0)', borderColor: '#3587c4', borderWidth: 1 },
    markLine: {
      silent: true, symbol: 'none', label: { show: false },
      data: [
        { yAxis: FWE_BETA, lineStyle: { color: '#000', width: 2.5, type: 'solid' } },
        { xAxis: VE_THRESHOLD, lineStyle: dotted }
      ]
    }
  },
  {
    type: 'scatter', xAxisIndex: 1, yAxisIndex: 1, data: cfSizeAll,
    symbol: 'diamond', symbolSize: [5, 7], itemStyle: { color: ORANGE, opacity: 0.9 }
  },
  {
    type: 'scatter', xAxisIndex: 1, yAxisIndex: 1, data: cfSizeFWE,
    symbol: 'circle', symbolSize: 6, itemStyle: { color: BLUE, opacity: 0.92 },
    markLine: veLine()
  },
  {
    type: 'scatter', xAxisIndex: 2, yAxisIndex: 2, data: uncAll,
    symbol: 'diamond', symbolSize: [5, 7], itemStyle: { color: ORANGE, opacity: 0.9 }
  },
  {
    type: 'scatter', xAxisIndex: 2, yAxisIndex: 2, data: uncFWE,
    symbol: 'circle', symbolSize: 6, itemStyle: { color: BLUE, opacity: 0.92 },
    markLine: veLine()
  }
];

function txt(x, y, text, size, weight) {
  return {
    type: 'text', x: x, y: y, z: 101,
    style: { text: text, fontFamily: FONT, fontSize: size, fontWeight: weight || 'normal', fill: '#111', verticalAlign: 'middle' }
  };
}

// legend for panels B and C (MATLAB style box)
function legendBC(x, y) {
  return [
    { type: 'rect', z: 100, shape: { x: x - 3, y: y - 7, width: 134, height: 51 }, style: { fill: '#fff' } },
    { type: 'line', z: 101, shape: { x1: x, y1: y, x2: x + 24, y2: y }, style: { stroke: '#111', lineWidth: 2.4, lineDash: [2.2, 1.8] } },
    txt(x + 35, y, 'VE threshold', 11.5),
    { type: 'circle', z: 101, shape: { cx: x + 13, cy: y + 16, r: 6 }, style: { fill: '#1c6ec4' } },
    txt(x + 29, y + 16, 'Surviving voxel FWE', 11.5),
    { type: 'polygon', z: 101, shape: { points: [[x + 13, y + 26], [x + 19.5, y + 36], [x + 13, y + 46], [x + 6.5, y + 36]] }, style: { fill: '#e0660f' } },
    txt(x + 34, y + 35, 'All voxel', 11.5)
  ];
}

const graphic = [
  txt(87, 35, 'A', 18, 'bold'),
  txt(487, 35, 'B', 18, 'bold'),
  txt(888, 34, 'C', 18, 'bold'),
  { type: 'line', z: 101, shape: { x1: 323, y1: 50, x2: 349, y2: 50 }, style: { stroke: '#000', lineWidth: 2.5 } },
  txt(356, 47, 'FWE beta threshold', 11.5),
  { type: 'line', z: 101, shape: { x1: 326, y1: 69, x2: 350, y2: 69 }, style: { stroke: '#111', lineWidth: 2.4, lineDash: [2.2, 1.8] } },
  txt(358, 68, 'VE threshold', 11.5)
].concat(legendBC(599, 62), legendBC(994, 60));

const chart = echarts.init(document.getElementById('chart'), null, { renderer: 'canvas' });
chart.setOption({
  backgroundColor: '#fff',
  animation: false,
  grid: grids,
  xAxis: xAxes,
  yAxis: yAxes,
  series: series,
  graphic: graphic
});

// squeeze each caption line to the width it has in the printed figure
document.querySelectorAll('#caption .ln span').forEach(function (s) {
  const target = +s.getAttribute('data-w');
  const w = s.getBoundingClientRect().width;
  s.style.transform = 'scaleX(' + (target / w).toFixed(4) + ')';
});
</script>
</body>
</html>
